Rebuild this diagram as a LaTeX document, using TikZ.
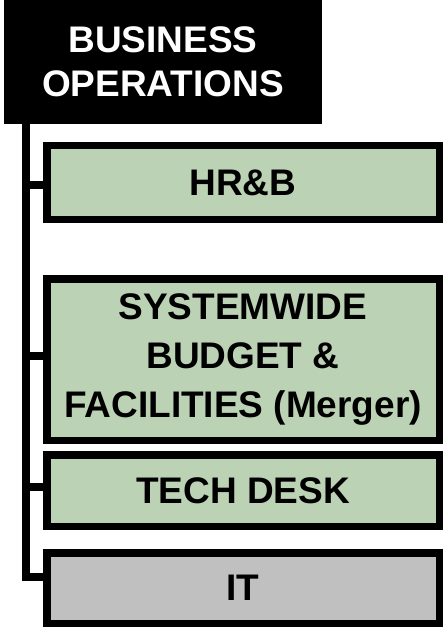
\documentclass[tikz,border=0pt]{standalone}
\usepackage{fontspec}
\setmainfont{Liberation Sans}
\definecolor{unitgreen}{RGB}{188,210,180}
\definecolor{unitgray}{RGB}{192,192,192}
\tikzset{
	head/.style={fill=black, text=white, inner sep=0pt, align=center,
		font=\bfseries\fontsize{37}{43.5}\selectfont},
	unit/.style={draw=black, line width=7.5pt, minimum width=392.5pt, inner sep=0pt,
		align=center, font=\bfseries\fontsize{37}{49}\selectfont},
	link/.style={line width=8pt, line join=miter}
}
\begin{document}
\begin{tikzpicture}[x=1pt,y=-1pt]
			\useasboundingbox (0,0) rectangle (443,628);
			% head of the department
			\node[head, minimum width=318pt, minimum height=124pt] (ops) at (163,62) {BUSINESS\\OPERATIONS};
			% units below it
			\node[unit, fill=unitgreen, minimum height=73.5pt] (hrb) at (243,182.5) {HR\&B};
			\node[unit, fill=unitgreen, minimum height=161.5pt] (sbf) at (243,359.5) {SYSTEMWIDE\\BUDGET \&\\FACILITIES (Merger)};
			\node[unit, fill=unitgreen, minimum height=71.5pt] (tech) at (243,490.5) {TECH DESK};
			\node[unit, fill=unitgray, minimum height=70.5pt] (it) at (243,588) {IT};
			% trunk line
			\coordinate (trunk) at (26,577);
			\coordinate (hrbin) at ([yshift=-3pt]hrb.west);
			\coordinate (sbfin) at ([yshift=3.5pt]sbf.west);
			\coordinate (techin) at ([yshift=3.5pt]tech.west);
			\draw[link] (ops.south -| trunk) -- (trunk) -- (trunk -| it.west);
			\draw[link] (trunk |- hrbin) -- (hrbin);
			\draw[link] (trunk |- sbfin) -- (sbfin);
			\draw[link] (trunk |- techin) -- (techin);
		\end{tikzpicture}
\end{document}
